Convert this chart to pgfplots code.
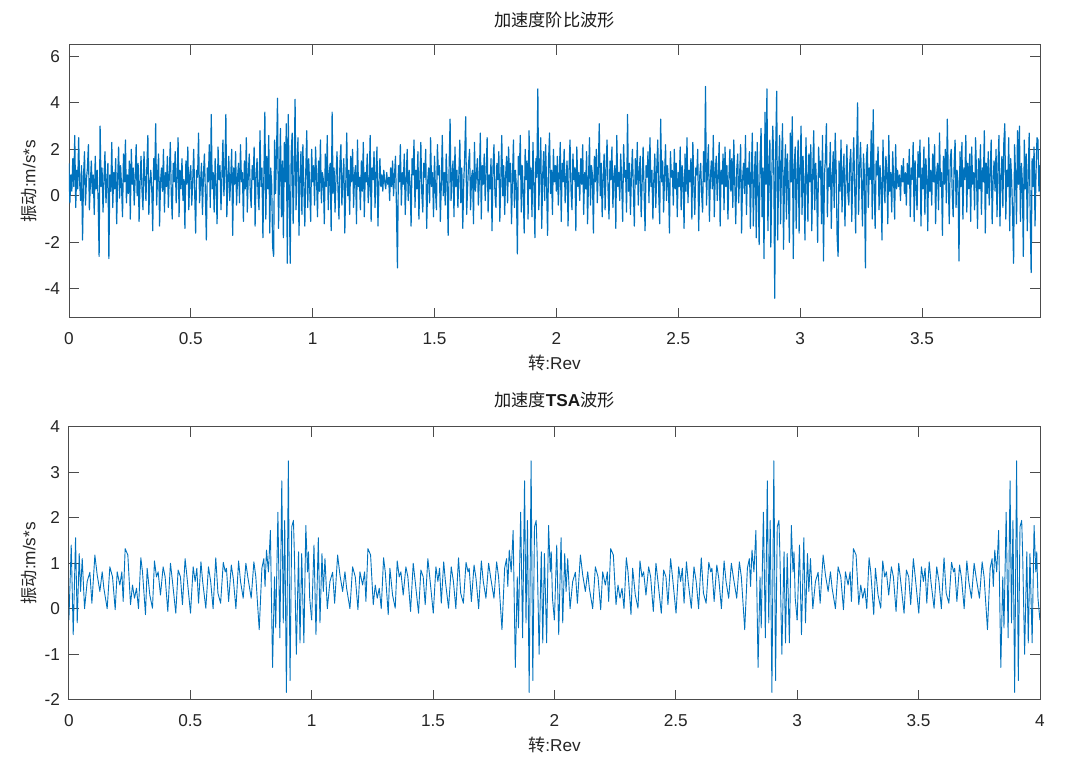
\documentclass[border=0pt]{standalone}
\usepackage{fontspec}
\setmainfont{Liberation Sans}
\newfontfamily\cjk{Noto Sans CJK SC}
\usepackage{pgfplots}
\usepackage{pgfplotstable}
\pgfplotsset{compat=1.18}
\definecolor{mblue}{HTML}{0072BD}
\definecolor{mgray}{gray}{0.15}

% order-domain acceleration samples (one sample every 0.004 rev)
\pgfplotstableread[row sep=\\]{
y\\
1.4\\ -0.3\\ 0.9\\ 0.2\\ 1.6\\ 0.4\\ 2.6\\ -0.5\\ 1.1\\ 0.3\\ 2.5\\ 0.6\\ -0.2\\ 1.3\\ -1.9\\ 0.8\\ 1.9\\ -0.4\\ 0.7\\ 1.2\\ 2.2\\ -0.6\\ 0.5\\ 1.5\\ 0.1\\
0.9\\ -0.8\\ 1.7\\ 0.3\\ 1.1\\ -0.2\\ -2.6\\ 3.0\\ 0.4\\ 1.2\\ -0.7\\ 0.8\\ 1.9\\ -0.3\\ 0.6\\ 1.4\\ -2.7\\ 0.9\\ 0.2\\ 2.3\\ -0.5\\ 1.0\\ 0.3\\ 1.6\\ -1.2\\
0.7\\ 2.1\\ -0.1\\ 1.3\\ 0.4\\ -0.9\\ 1.8\\ 0.6\\ 2.4\\ -0.3\\ 0.9\\ 0.1\\ 1.5\\ -1.0\\ 2.0\\ 0.5\\ 1.2\\ -0.4\\ 0.8\\ 2.2\\ 0.0\\ 1.4\\ -1.1\\ 0.6\\ 1.7\\
0.2\\ -0.6\\ 1.9\\ 0.8\\ -0.2\\ 1.3\\ 2.6\\ -0.8\\ 0.5\\ 1.1\\ 0.3\\ -1.5\\ 1.6\\ 0.7\\ 3.1\\ -0.4\\ 0.9\\ 1.8\\ -1.3\\ 0.6\\ 1.2\\ 0.2\\ 2.0\\ -0.7\\ 1.0\\
0.4\\ 1.7\\ -0.5\\ 0.9\\ 2.3\\ 0.1\\ -1.0\\ 1.4\\ 0.6\\ 1.9\\ -0.3\\ 0.8\\ 2.5\\ -0.9\\ 1.1\\ 0.3\\ 1.6\\ -0.2\\ 0.7\\ -1.4\\ 1.5\\ 0.5\\ 2.1\\ -0.6\\ 0.9\\
1.3\\ -0.4\\ 0.6\\ 2.0\\ 0.2\\ -1.6\\ 1.1\\ 0.8\\ 2.7\\ -0.3\\ 0.5\\ 1.4\\ -0.8\\ 0.9\\ 1.8\\ 0.1\\ -1.9\\ 1.2\\ 0.6\\ 2.2\\ -0.5\\ 3.5\\ 0.3\\ 1.0\\ -0.7\\
1.6\\ 0.4\\ -1.2\\ 2.1\\ 0.7\\ 1.3\\ -0.6\\ 0.9\\ 2.4\\ 0.0\\ 1.1\\ 3.5\\ -0.9\\ 0.6\\ 1.7\\ -0.2\\ 0.8\\ 2.0\\ -1.7\\ 1.2\\ 0.5\\ 1.9\\ -0.4\\ 0.8\\ 1.4\\
-0.3\\ 2.2\\ 0.6\\ 1.0\\ -1.1\\ 1.5\\ 0.3\\ 2.5\\ -0.7\\ 0.9\\ 1.8\\ 0.2\\ -0.5\\ 1.3\\ 0.7\\ 2.1\\ -1.3\\ 0.8\\ 1.6\\ 0.1\\ -0.6\\ 2.8\\ 0.4\\ 1.2\\ -1.8\\
0.9\\ 3.6\\ -1.0\\ 1.7\\ 0.3\\ 2.6\\ -1.6\\ 1.2\\ 0.5\\ -2.2\\ -2.6\\ 2.4\\ 0.1\\ 1.9\\ 4.2\\ -1.4\\ 0.8\\ 2.9\\ -0.9\\ 1.5\\ -1.8\\ 2.3\\ 0.6\\ 3.1\\ -2.9\\
3.5\\ 0.2\\ -2.9\\ 1.8\\ 2.7\\ -1.2\\ 0.9\\ 4.15\\ -0.6\\ 1.4\\ 2.5\\ -1.7\\ 0.7\\ 1.9\\ -0.8\\ 2.2\\ 0.4\\ -1.3\\ 1.1\\ 2.8\\ -0.5\\ 1.6\\ 0.3\\ -1.1\\ 2.0\\
0.6\\ 1.3\\ -0.4\\ 2.1\\ 0.8\\ -0.9\\ 1.5\\ 0.2\\ 2.4\\ -0.3\\ 1.0\\ 0.7\\ -1.2\\ 1.8\\ 0.4\\ 2.6\\ -0.6\\ 0.9\\ 1.4\\ -1.5\\ 3.6\\ 0.1\\ 1.2\\ -0.7\\ 0.8\\
1.9\\ 0.3\\ -1.0\\ 1.4\\ 2.2\\ -0.4\\ 0.8\\ 1.6\\ -1.6\\ 0.5\\ 2.7\\ 0.0\\ 1.1\\ -0.8\\ 1.7\\ 0.6\\ 2.0\\ -0.5\\ 0.9\\ 1.3\\ -1.2\\ 2.4\\ 0.4\\ 0.8\\ -0.6\\
1.5\\ 0.2\\ 2.3\\ -0.9\\ 1.0\\ 0.6\\ 1.8\\ -0.3\\ 0.4\\ 2.6\\ -1.1\\ 1.2\\ 0.7\\ 1.9\\ -0.5\\ 0.9\\ 2.1\\ -1.3\\ 0.5\\ 1.6\\ 0.4\\ 0.9\\ 0.2\\ 1.1\\ 0.6\\
0.3\\ 1.0\\ 0.5\\ 0.8\\ -0.2\\ 1.2\\ 0.4\\ 1.5\\ 0.0\\ 0.9\\ 1.7\\ -0.6\\ -3.1\\ 1.3\\ 0.6\\ 2.2\\ -0.4\\ 1.0\\ 0.5\\ 1.8\\ -0.8\\ 0.7\\ 2.0\\ -0.2\\ 1.1\\
0.5\\ -1.3\\ 1.6\\ 0.9\\ 2.4\\ -0.5\\ 1.1\\ 0.3\\ 1.9\\ -1.0\\ 0.7\\ 2.3\\ 0.1\\ -0.7\\ 1.4\\ 0.8\\ 2.0\\ -1.4\\ 0.6\\ 1.2\\ -0.3\\ 2.5\\ 0.4\\ 1.0\\ -0.9\\
1.7\\ 0.2\\ -0.6\\ 2.2\\ 0.9\\ 1.3\\ -1.1\\ 0.5\\ 2.6\\ 0.0\\ 1.0\\ -0.4\\ 1.8\\ 0.6\\ -1.7\\ 1.2\\ 3.3\\ -0.2\\ 0.8\\ 1.5\\ -0.9\\ 2.1\\ 0.4\\ 1.1\\ -0.5\\
0.9\\ 2.4\\ -0.3\\ 1.2\\ -1.4\\ 0.6\\ 1.7\\ 3.4\\ -0.8\\ 0.4\\ 1.4\\ 2.0\\ -0.6\\ 0.8\\ 1.1\\ -1.2\\ 2.3\\ 0.2\\ 0.9\\ 1.6\\ -0.4\\ 0.7\\ 2.7\\ -1.0\\ 1.3\\
0.5\\ 1.8\\ -0.2\\ 1.0\\ 2.5\\ -0.7\\ 0.9\\ 0.3\\ 1.6\\ -1.5\\ 1.2\\ 2.2\\ 0.1\\ -0.5\\ 1.4\\ 0.7\\ 1.9\\ -1.1\\ 0.6\\ 2.6\\ 0.0\\ 1.3\\ -0.8\\ 0.9\\ 1.7\\
-0.3\\ 2.1\\ 0.6\\ 1.4\\ -1.2\\ 0.8\\ 2.4\\ -0.5\\ 1.1\\ 0.4\\ -2.5\\ 1.7\\ 0.9\\ 2.6\\ -0.7\\ 1.3\\ 0.2\\ -1.6\\ 2.0\\ 0.7\\ 1.5\\ -1.0\\ 2.8\\ 0.3\\ 1.2\\
-0.9\\ 2.3\\ 0.5\\ -1.8\\ 1.6\\ 0.8\\ 4.6\\ -0.6\\ 1.2\\ 2.5\\ -1.4\\ 0.9\\ 1.9\\ -0.2\\ 2.2\\ 0.4\\ -1.7\\ 1.5\\ 2.7\\ 0.1\\ 1.1\\ -0.8\\ 2.0\\ 0.6\\ 1.3\\
0.2\\ 1.7\\ -0.4\\ 0.9\\ 2.3\\ -1.1\\ 1.4\\ 0.6\\ 2.0\\ -0.3\\ 0.8\\ 1.5\\ -1.3\\ 1.1\\ 2.4\\ 0.3\\ -0.6\\ 1.8\\ 0.7\\ 1.2\\ -1.5\\ 2.1\\ 0.4\\ 1.0\\ -0.2\\
1.6\\ 0.5\\ 2.2\\ -0.8\\ 1.0\\ 0.3\\ 1.9\\ -1.2\\ 0.7\\ 2.5\\ -0.4\\ 1.3\\ 0.9\\ -1.6\\ 1.7\\ 0.6\\ 2.0\\ -0.3\\ 1.1\\ 3.1\\ 0.0\\ 1.4\\ -0.9\\ 0.8\\ 1.8\\
-0.6\\ 1.2\\ 2.4\\ 0.3\\ -1.0\\ 1.5\\ 0.7\\ 2.1\\ -0.5\\ 0.9\\ 1.3\\ -1.4\\ 2.6\\ 0.4\\ 1.0\\ -0.2\\ 1.8\\ 0.6\\ -1.1\\ 2.2\\ 0.8\\ 1.1\\ -0.7\\ 3.5\\ 0.2\\
1.4\\ -0.8\\ 0.9\\ 2.0\\ 0.3\\ -1.3\\ 1.6\\ 0.5\\ 2.3\\ -0.4\\ 1.0\\ 1.7\\ -0.9\\ 0.6\\ 2.1\\ 0.2\\ -1.5\\ 1.3\\ 0.8\\ 1.9\\ -0.3\\ 2.5\\ 0.4\\ 1.1\\ -1.0\\
0.7\\ 1.8\\ -0.5\\ 1.2\\ 2.4\\ 0.1\\ -1.2\\ 3.3\\ 0.6\\ 1.5\\ -0.7\\ 0.9\\ 2.2\\ -0.2\\ 1.3\\ 0.5\\ -1.6\\ 1.9\\ 0.8\\ 1.1\\ -0.4\\ 2.0\\ 0.3\\ 1.4\\ -0.9\\
1.0\\ 0.4\\ 2.1\\ -0.6\\ 1.3\\ 0.7\\ -1.4\\ 1.8\\ 0.2\\ 2.5\\ -0.3\\ 1.1\\ 0.6\\ 1.6\\ -1.0\\ 2.3\\ 0.5\\ -0.8\\ 1.2\\ 0.9\\ 2.0\\ -1.5\\ 0.8\\ 1.4\\ 0.1\\
-0.7\\ 1.9\\ 0.6\\ 4.7\\ -0.4\\ 1.2\\ 2.2\\ -1.1\\ 0.8\\ 1.5\\ 0.3\\ 2.6\\ -0.9\\ 1.0\\ 1.7\\ -0.2\\ 0.9\\ 2.3\\ -1.3\\ 1.1\\ 0.5\\ 1.8\\ -0.6\\ 2.1\\ 0.4\\
1.3\\ -1.0\\ 0.8\\ 2.0\\ 0.2\\ 1.6\\ -0.5\\ 2.4\\ 0.6\\ -1.2\\ 1.1\\ 1.8\\ -0.3\\ 0.9\\ 2.2\\ -1.6\\ 0.7\\ 1.4\\ 0.1\\ 2.6\\ -0.8\\ 1.2\\ 0.5\\ 1.9\\ -1.4\\
1.0\\ 2.7\\ -1.3\\ 0.6\\ 1.9\\ -1.8\\ 2.3\\ 0.4\\ -2.1\\ 1.6\\ 2.9\\ -0.9\\ 1.2\\ -2.7\\ 3.6\\ 0.5\\ 4.6\\ -1.5\\ 1.1\\ 2.4\\ -2.2\\ 0.8\\ 3.0\\ 1.4\\ -4.4\\
2.0\\ 4.5\\ -1.9\\ 0.9\\ 2.6\\ -1.2\\ 1.5\\ 3.1\\ -2.3\\ 0.7\\ 2.2\\ -1.0\\ 1.8\\ 0.3\\ -2.0\\ 2.7\\ 0.6\\ 3.4\\ -2.7\\ 1.3\\ 2.1\\ -1.4\\ 0.9\\ 2.4\\ -1.6\\
1.2\\ 3.0\\ -0.8\\ 1.7\\ 0.4\\ -1.9\\ 2.5\\ 0.9\\ -1.1\\ 1.8\\ 0.6\\ 2.2\\ -1.5\\ 1.0\\ 2.8\\ -0.6\\ 1.4\\ 0.3\\ -2.0\\ 2.1\\ 0.8\\ 1.5\\ -1.2\\ 2.6\\ -2.8\\
0.9\\ 1.6\\ 3.1\\ -0.9\\ 1.2\\ 0.4\\ 2.3\\ -1.4\\ 0.8\\ 1.9\\ -0.5\\ 2.7\\ 1.1\\ -1.8\\ -2.6\\ 1.5\\ 0.2\\ 2.4\\ -0.7\\ 1.0\\ 1.8\\ -1.3\\ 0.6\\ 2.2\\ 0.1\\
-0.4\\ 1.4\\ 2.0\\ -1.1\\ 0.8\\ 2.5\\ 0.3\\ -1.6\\ 1.7\\ 4.0\\ -0.8\\ 1.1\\ 2.3\\ 0.5\\ -1.3\\ 1.8\\ 0.9\\ -3.1\\ 1.6\\ 2.2\\ -0.5\\ 1.2\\ 0.7\\ 2.8\\ -1.0\\
3.7\\ 0.4\\ -1.4\\ 1.5\\ 0.9\\ 2.1\\ -0.6\\ 1.3\\ 0.5\\ -1.9\\ 2.4\\ 0.8\\ -0.3\\ 1.7\\ 1.1\\ -1.2\\ 2.6\\ 0.2\\ 1.0\\ -0.7\\ 1.9\\ 0.6\\ -1.0\\ 2.2\\ 0.3\\
1.1\\ 0.4\\ 0.9\\ -0.2\\ 1.3\\ 0.6\\ 1.6\\ 0.1\\ 1.0\\ -0.4\\ 1.4\\ 0.5\\ 2.0\\ -0.9\\ 1.2\\ 0.7\\ 2.3\\ -1.1\\ 1.5\\ 0.2\\ -0.6\\ 1.9\\ 0.8\\ 2.4\\ -1.3\\
1.2\\ 0.3\\ 2.1\\ -0.8\\ 1.6\\ 0.7\\ -1.5\\ 2.5\\ 0.2\\ 1.1\\ -0.4\\ 1.8\\ 0.6\\ 2.2\\ -1.2\\ 0.9\\ 1.4\\ -0.6\\ 2.7\\ 0.4\\ 1.0\\ -1.7\\ 1.7\\ 0.5\\ 2.0\\
-0.3\\ 3.3\\ 0.8\\ -1.2\\ 1.5\\ 2.0\\ 0.2\\ -0.9\\ 1.3\\ 2.4\\ -0.5\\ 1.1\\ 0.6\\ -2.8\\ 1.9\\ 0.4\\ 2.3\\ -1.0\\ 1.2\\ 0.7\\ 2.6\\ -0.7\\ 1.4\\ 0.3\\ 1.8\\
-1.1\\ 2.1\\ 0.5\\ 1.0\\ -0.6\\ 2.5\\ 0.9\\ -1.4\\ 1.6\\ 0.3\\ 2.2\\ -0.8\\ 1.2\\ 0.6\\ 2.8\\ -1.6\\ 1.4\\ 0.1\\ 1.9\\ -0.4\\ 1.0\\ 2.4\\ -1.2\\ 0.7\\ 1.5\\
0.2\\ 2.0\\ -0.9\\ 1.3\\ 2.6\\ -1.3\\ 0.8\\ 1.7\\ -0.5\\ 2.3\\ 3.1\\ -1.0\\ 1.1\\ 0.4\\ 2.5\\ -1.5\\ 1.6\\ 0.7\\ -0.8\\ -2.9\\ 2.2\\ 0.9\\ -1.2\\ 2.8\\ 0.5\\
3.0\\ -1.1\\ 1.4\\ 0.6\\ -2.6\\ 2.4\\ 0.3\\ 1.8\\ -1.5\\ 0.9\\ 2.7\\ -0.7\\ -3.3\\ 1.6\\ 0.4\\ 2.1\\ -1.3\\ 1.0\\ 2.5\\ 2.4\\ 0.2\\ 1.3\\ -0.8\\ 1.7\\ 0.6\\
}\orderdata

% TSA waveform, one revolution (repeated every revolution)
\pgfplotstableread[row sep=\\]{
x y\\
0 -0.25\\ 0.0096 1.40\\ 0.0178 -0.57\\ 0.0274 1.56\\ 0.0343 -0.31\\ 0.0425 1.21\\ 0.048 0.38\\ 0.0549 1.10\\ 0.0645 0.0\\ 0.0754 0.60\\
0.0864 0.80\\ 0.0947 0.12\\ 0.107 1.18\\ 0.1166 0.74\\ 0.1276 0.38\\ 0.1372 0.81\\ 0.144 0.45\\ 0.1577 0.0\\ 0.1687 0.92\\ 0.1797 0.70\\
0.1907 -0.02\\ 0.1989 0.81\\ 0.2099 0.52\\ 0.2181 0.81\\ 0.2236 0.16\\ 0.2318 1.32\\ 0.2428 1.18\\ 0.2538 0.09\\ 0.262 0.52\\ 0.2702 0.23\\
0.2785 0.45\\ 0.2867 0.0\\ 0.2963 1.12\\ 0.3032 0.81\\ 0.3155 -0.13\\ 0.3224 0.89\\ 0.3333 0.30\\ 0.3443 0.01\\ 0.3525 1.05\\ 0.3608 0.70\\
0.3676 0.81\\ 0.3772 0.30\\ 0.3882 0.92\\ 0.3964 0.70\\ 0.4074 -0.06\\ 0.4184 1.0\\ 0.4266 0.60\\ 0.4403 -0.10\\ 0.4499 0.85\\ 0.4595 0.70\\
0.4678 0.09\\ 0.4787 1.10\\ 0.487 0.67\\ 0.501 -0.10\\ 0.512 0.92\\ 0.520 0.60\\ 0.527 0.89\\ 0.534 0.12\\ 0.544 1.03\\ 0.551 0.60\\
0.564 0.01\\ 0.575 0.92\\ 0.584 0.60\\ 0.594 0.0\\ 0.605 1.12\\ 0.614 0.34\\ 0.625 0.12\\ 0.636 1.02\\ 0.644 0.81\\ 0.649 0.89\\
0.658 0.16\\ 0.669 0.96\\ 0.677 0.67\\ 0.688 0.0\\ 0.699 1.05\\ 0.707 0.60\\ 0.718 0.23\\ 0.729 1.00\\ 0.737 0.70\\ 0.751 0.23\\
0.762 1.03\\ 0.770 0.70\\ 0.784 -0.46\\ 0.795 0.89\\ 0.803 1.10\\ 0.808 0.49\\ 0.814 1.29\\ 0.822 0.81\\ 0.830 1.72\\ 0.839 -1.29\\
0.847 0.70\\ 0.852 -0.42\\ 0.861 2.12\\ 0.869 -0.64\\ 0.877 2.81\\ 0.883 -0.31\\ 0.889 1.94\\ 0.896 -1.84\\ 0.904 3.25\\ 0.911 -1.58\\
0.918 1.80\\ 0.925 1.94\\ 0.929 1.18\\ 0.937 -1.00\\ 0.946 1.25\\ 0.952 -0.75\\ 0.959 1.21\\ 0.968 -0.75\\ 0.976 1.83\\ 0.983 0.81\\
0.987 1.25\\ 0.992 0.23\\ 1.000 -0.25\\
}\tsadata

\pgfplotsset{
  mstyle/.style={
    scale only axis, width=485.5pt, height=136.5pt,
    axis line style={black!70, line width=0.4pt},
    every tick/.style={black!70, line width=0.4pt},
    major tick length=5pt, tick align=inside,
    /pgf/number format/assume math mode=true,
    ticklabel style={font=\fontsize{8.6}{10}\selectfont, text=mgray},
    xticklabel style={yshift=-4pt},
    yticklabel style={xshift=-1pt},
    label style={font=\fontsize{8.6}{10}\selectfont, text=mgray},
    title style={font=\fontsize{8.6}{10}\selectfont, text=black!90},
    xlabel style={at={(axis description cs:0.5,-0.166)}, anchor=center},
    ylabel style={at={(axis description cs:-0.0412,0.5)}, anchor=center},
  },
  sig/.style={color=mblue, line width=0.45pt, line join=round},
}

\begin{document}
\begin{tikzpicture}
\path[use as bounding box] (0,0) rectangle (540pt,383pt);
\begin{axis}[mstyle,
  at={(34.45pt,224.15pt)}, anchor=south west,
  xmin=0, xmax=3.984, ymin=-5.24, ymax=6.5,
  xtick={0,0.5,1,1.5,2,2.5,3,3.5},
  ytick={-4,-2,0,2,4,6},
  title={{\cjk 加速度阶比波形}},
  title style={at={(axis description cs:0.5,1.0477)}, anchor=center},
  xlabel={{\cjk 转}:Rev},
  ylabel={{\cjk 振动}:m/s*s},
]
\addplot[sig, line width=0.6pt] table[x expr=\coordindex*0.004, y=y]{\orderdata};
\end{axis}
\begin{axis}[mstyle,
  at={(34.45pt,33.15pt)}, anchor=south west,
  xmin=0, xmax=4, ymin=-2, ymax=4,
  xtick={0,0.5,1,1.5,2,2.5,3,3.5,4},
  ytick={-2,-1,0,1,2,3,4},
  title={{\cjk 加速度}\textbf{TSA}{\cjk 波形}},
  title style={at={(axis description cs:0.5,1.0523)}, anchor=center},
  xlabel={{\cjk 转}:Rev},
  ylabel={{\cjk 振动}:m/s*s},
]
\addplot[sig] table[x=x, y=y]{\tsadata};
\addplot[sig] table[x expr=\thisrow{x}+1, y=y]{\tsadata};
\addplot[sig] table[x expr=\thisrow{x}+2, y=y]{\tsadata};
\addplot[sig] table[x expr=\thisrow{x}+3, y=y]{\tsadata};
\end{axis}
\end{tikzpicture}
\end{document}
